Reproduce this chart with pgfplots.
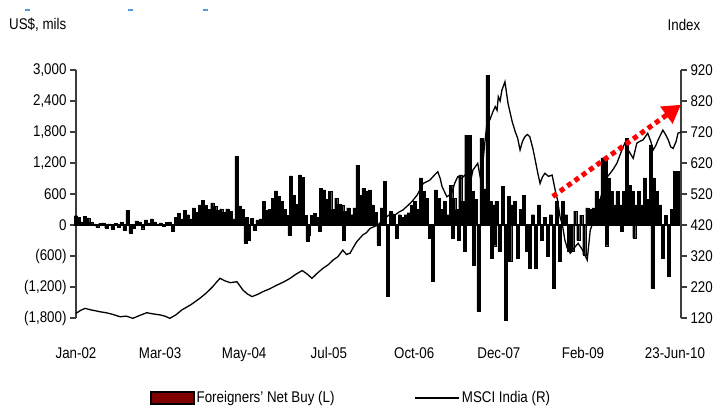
\documentclass[border=0pt]{standalone}
\usepackage{pgfplots}
\pgfplotsset{compat=1.18}
\usepackage{fontspec}
\setmainfont{Liberation Sans}[FakeStretch=0.86]
\usetikzlibrary{arrows.meta}
\definecolor{legred}{RGB}{128,0,0}
\definecolor{axgray}{RGB}{60,60,60}
\definecolor{dashblue}{RGB}{91,155,213}
\newcommand{\cf}{\fontsize{15.5bp}{18bp}\selectfont}

\begin{document}
\begin{tikzpicture}
\path[use as bounding box] (-76bp,-88bp) rectangle (642bp,318bp);
\begin{axis}[
  scale only axis, width=605bp, height=248bp,
  at={(0,0)}, anchor=south west,
  xmin=0, xmax=100, ymin=-1800, ymax=3000,
  clip=false,
  axis y line*=left, axis x line*=bottom,
  x axis line style={draw=none},
  y axis line style={axgray, line width=1.3bp},
  xtick={0,13.9,27.8,41.8,55.9,69.9,83.8,99},
  xticklabels={Jan-02,Mar-03,May-04,Jul-05,Oct-06,Dec-07,Feb-09,{\raisebox{-3bp}{23-Jun-10}}},
  x tick style={draw=none},
  ytick={-1800,-1200,...,3000},
  yticklabels={{(1,800)},{(1,200)},{(600)},0,600,{1,200},{1,800},{2,400},{3,000}},
  y tick style={axgray, line width=1.3bp},
  tick align=outside, major tick length=6bp,
  tick label style={font=\cf},
  xticklabel style={yshift=-20bp},
]
\addplot[ybar, bar width=0.5, bar shift=0pt, fill=black, draw=black, line width=0.2bp] coordinates {
(0,180)(0.5,150)(1,60)(1.5,170)(2,140)(2.5,60)(3,20)(3.5,-40)(4,30)(4.5,40)(5,-60)(5.5,20)(6,-80)(6.5,30)(7,-40)(7.5,60)(8,-100)(8.5,280)(9,-150)(9.5,-60)(10,80)(10.5,60)(11,-70)(11.5,100)(12,40)(12.5,120)(13,60)(13.5,20)(14,40)(14.5,-30)(15,50)(15.5,60)(16,-120)
(16.5,150)(17,230)(17.5,120)(18,280)(18.5,200)(19,120)(19.5,330)(20,250)(20.5,390)
(21,480)(21.5,380)(22,300)(22.5,430)(23,370)(23.5,290)(24,310)(24.5,250)(25,310)(25.5,270)(26,120)(26.5,1330)
(27,370)(27.5,300)(28,-350)(28.25,150)(28.5,-300)(29,130)(29.5,-100)(30,100)(30.5,120)(31,460)(31.5,290)(32,300)(32.5,520)(33,660)(33.5,560)(34,460)(34.5,300)(35,190)(35.25,-200)(35.5,950)(36,580)(36.5,400)(37,970)(37.5,920)(38,190)(38.25,-310)(38.5,-200)(39,190)(39.5,230)(40,150)(40.25,-120)(40.5,710)(41,680)(41.5,500)(42,650)(42.5,300)(43,520)(43.5,400)(44,390)(44.25,-290)(44.5,270)(45,330)(45.5,200)(46,330)(46.5,1160)(47,580)(47.5,710)(48,650)(48.5,680)(49,390)(49.5,250)(50,-390)(50.5,330)(51,850)(51.5,-1370)(52,270)(52.5,200)(53,-250)(53.5,200)(54,150)(54.5,200)(55,240)(55.5,390)(56,460)(56.5,300)(57,910)(57.5,650)(58,520)(58.5,-250)(59,-1080)(59.5,680)(60,520)(60.5,300)(61,460)(61.5,200)(62,770)(62.25,-250)(62.5,520)(63,300)(63.25,-300)(63.5,970)(64,460)(64.25,-500)(64.5,1740)(65,1740)(65.5,650)(65.75,-770)(66,500)(66.5,-1660)(67,1680)(67.5,700)(68,2900)(68.5,460)(68.75,-640)(69,390)(69.25,-400)(69.5,460)(70,-500)(70.5,750)(71,-1840)(71.5,560)(71.75,-700)(72,390)(72.5,460)(73,-640)(73.5,300)(74,580)(74.5,-500)(75,-830)(75.5,200)(76,-830)(76.5,390)(77,-300)(77.5,150)(78,-600)(78.5,200)(79,-1220)(79.5,460)(80,-700)(80.5,460)(81,200)(81.5,-500)(82,-500)(82.5,270)(83,-300)(83.5,190)(84,-580)(84.5,330)(85,300)(85.5,330)(86,650)(86.5,500)(87,1300)(87.5,1300)(87.75,-400)(88,910)(88.5,650)(89,390)(89.5,650)(90,390)(90.25,-120)(90.5,650)(91,1680)(91.5,770)(92,650)(92.25,-250)(92.5,390)(93,650)(93.5,390)(94,910)(94.5,500)(95,1550)(95.25,-1220)(95.5,910)(96,650)(96.5,390)(97,-640)(97.5,190)(98,-990)(98.5,300)(99,1040)(99.5,1040)
};
\draw[black, line width=2bp] (axis cs:0,0) -- (axis cs:100,0);
\end{axis}

\begin{axis}[
  scale only axis, width=605bp, height=248bp,
  at={(0,0)}, anchor=south west,
  xmin=0, xmax=100, ymin=120, ymax=920,
  clip=false,
  axis y line*=right, axis x line=none,
  y axis line style={axgray, line width=1.3bp},
  ytick={120,220,...,920},
  y tick style={axgray, line width=1.3bp},
  tick align=outside, major tick length=6bp,
  tick label style={font=\cf},
  /pgf/number format/assume math mode=true,
  legend columns=2,
  legend cell align=left,
  legend style={draw=none, fill=none, inner sep=0pt, font=\cf,
    at={(axis description cs:0.1223,-0.3226)}, anchor=west,
    /tikz/every even column/.append style={column sep=78bp}},
]
\addplot[black, line width=1.3bp, forget plot] coordinates {
(0,135)(0.8,145)(1.5,151)(2.5,146)(3.3,143)(4,140)(5,137)(6,132)(7.3,124)(8.3,126)(9.4,119)(10.5,128)(11.7,137)(12.8,133)(13.9,130)(14.7,126)(15.5,119)(16.5,130)(17.5,146)(19,163)(20.5,184)(21.5,200)(22.6,221)(23.2,235)(23.8,248)(24.6,240)(25.5,234)(26.6,237)(27.6,210)(28.3,198)(29.1,189)(30,196)(30.9,205)(32,214)(33.2,226)(34.3,236)(35.4,248)(36.4,262)(37.4,273)(38.2,262)(39,248)(39.9,265)(40.8,280)(41.7,292)(42.5,307)(43.3,318)(44.1,339)(44.7,325)(45.3,329)(45.9,350)(46.4,366)(47.4,388)(48,395)(48.6,409)(49.3,415)(49.9,420)(50.6,435)(51.4,447)(52.1,458)(52.7,452)(53.4,462)(54,468)(54.8,482)(55.5,495)(56.4,517)(57.4,554)(58,560)(58.5,565)(59.2,580)(59.8,592)(60.2,570)(60.5,544)(61.3,511)(62.1,522)(62.6,555)(63.1,576)(63.7,570)(64.3,581)(64.7,560)(65.1,549)(65.6,597)(66.4,619)(66.8,576)(67.3,630)(67.6,690)(67.9,743)(68.4,759)(68.9,785)(69.3,802)(69.6,790)(69.8,834)(70.1,820)(70.4,855)(70.9,882)(71.4,813)(72.1,753)(72.6,721)(73,700)(73.4,662)(73.8,690)(74.2,705)(74.6,712)(75,705)(75.5,668)(75.9,630)(76.3,590)(76.7,554)(77.1,575)(77.5,587)(78.1,577)(78.7,581)(79.2,533)(79.6,500)(80,447)(80.4,420)(80.8,372)(81.2,345)(81.7,329)(82.3,345)(83,361)(83.7,340)(84.5,307)(85,404)(85.7,440)(86.3,479)(86.9,520)(87.4,565)(88.3,587)(88.8,600)(89.4,619)(90,650)(90.7,684)(91.2,665)(91.6,651)(92.1,635)(92.7,684)(93.2,690)(93.7,694)(94.5,716)(95,690)(95.4,662)(95.8,675)(96.2,694)(96.6,710)(97,726)(97.5,710)(97.9,694)(98.3,672)(98.7,667)(99.2,690)(99.5,716)(100,720)
};
\addlegendimage{legend image code/.code={\draw[fill=legred, draw=black, line width=1.5bp] (0bp,-6bp) rectangle (43bp,6bp);}}
\addlegendentry{Foreigners' Net Buy (L)}
\addlegendimage{legend image code/.code={\draw[black, line width=1.5bp] (0bp,0bp) -- (44bp,0bp);}}
\addlegendentry{MSCI India (R)}
\draw[red, line width=5bp, dash pattern=on 5bp off 4bp, -{Triangle[length=18bp,width=20bp]}] (axis cs:78.8,512) -- (axis cs:100,808);
\end{axis}

\node[anchor=west, font=\cf, inner sep=0pt] at (-67bp,293bp) {US\$, mils};
\node[font=\cf, inner sep=0pt] at (608bp,293bp) {Index};
\draw[dashblue, line width=1.2bp] (-51bp,308bp) -- (-46bp,308bp);
\draw[dashblue, line width=1.2bp] (52bp,308bp) -- (57bp,308bp);
\draw[dashblue, line width=1.2bp] (127bp,308bp) -- (132bp,308bp);
\end{tikzpicture}
\end{document}
